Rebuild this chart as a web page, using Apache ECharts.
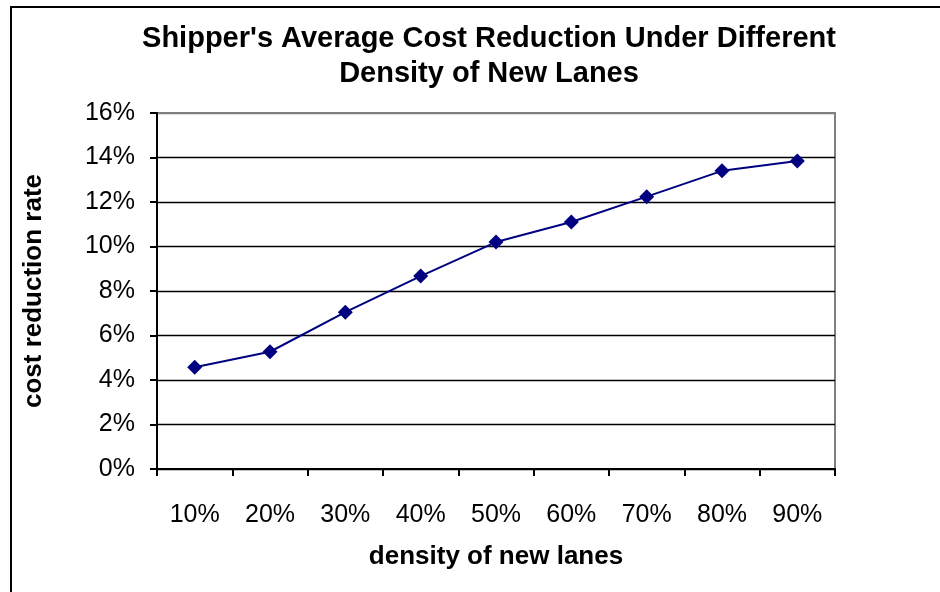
<!DOCTYPE html>
<html>
<head>
<meta charset="utf-8">
<script src="https://cdn.jsdelivr.net/npm/echarts@6/dist/echarts.min.js"></script>
<style>
html,body{margin:0;padding:0;background:#fff;}
#c{width:940px;height:592px;}
#frame{position:absolute;left:10px;top:6px;width:940px;height:600px;border-left:2px solid #000;border-top:2px solid #000;pointer-events:none;}
</style>
</head>
<body>
<div id="c"></div>
<div id="frame"></div>
<script>
var categories = ['10%','20%','30%','40%','50%','60%','70%','80%','90%'];
var costReduction = [4.57, 5.27, 7.05, 8.67, 10.2, 11.1, 12.24, 13.4, 13.84];
var yTicks = [0, 2, 4, 6, 8, 10, 12, 14, 16];

var chart = echarts.init(document.getElementById('c'), null, {renderer:'canvas'});
var font = 'Liberation Sans, Arial, sans-serif';
var gridColors = yTicks.map(function(v){ return v === 16 ? '#808080' : '#000'; });
chart.setOption({
  animation: false,
  backgroundColor: '#fff',
  title: {
    text: "Shipper's Average Cost Reduction Under Different\nDensity of New Lanes",
    left: 484, top: 16, textAlign: 'center',
    textStyle: {fontFamily: font, fontSize: 29, fontWeight: 'bold', color: '#000', lineHeight: 35}
  },
  grid: {left: 157, top: 113, width: 678, height: 356, show: true, borderColor: '#808080', borderWidth: 2, backgroundColor: 'transparent'},
  xAxis: {
    type: 'category', data: categories, boundaryGap: true,
    name: 'density of new lanes', nameLocation: 'middle', nameGap: 75,
    nameTextStyle: {fontFamily: font, fontSize: 26, fontWeight: 'bold', color: '#000'},
    axisLine: {lineStyle: {color: '#000', width: 2}},
    axisTick: {show: true, length: 7, inside: false, lineStyle: {color: '#000', width: 2}},
    axisLabel: {fontFamily: font, fontSize: 25, color: '#000', margin: 34},
    splitLine: {show: false}
  },
  yAxis: {
    type: 'value', min: 0, max: 16, interval: 2,
    name: 'cost reduction rate', nameLocation: 'middle', nameGap: 110, nameRotate: 90,
    nameTextStyle: {fontFamily: font, fontSize: 26, fontWeight: 'bold', color: '#000'},
    axisLine: {show: true, lineStyle: {color: '#000', width: 2}},
    axisTick: {show: true, length: 7, lineStyle: {color: '#000', width: 2}},
    axisLabel: {fontFamily: font, fontSize: 25, color: '#000', margin: 22,
      formatter: function(v){ return yTicks.indexOf(v) >= 0 ? v + '%' : ''; }},
    splitLine: {show: true, lineStyle: {color: gridColors, width: 1.3}}
  },
  series: [{
    type: 'line', data: costReduction,
    symbol: 'diamond', symbolSize: 15,
    lineStyle: {color: '#000080', width: 2},
    itemStyle: {color: '#000080'}
  }]
});
</script>
</body>
</html>
